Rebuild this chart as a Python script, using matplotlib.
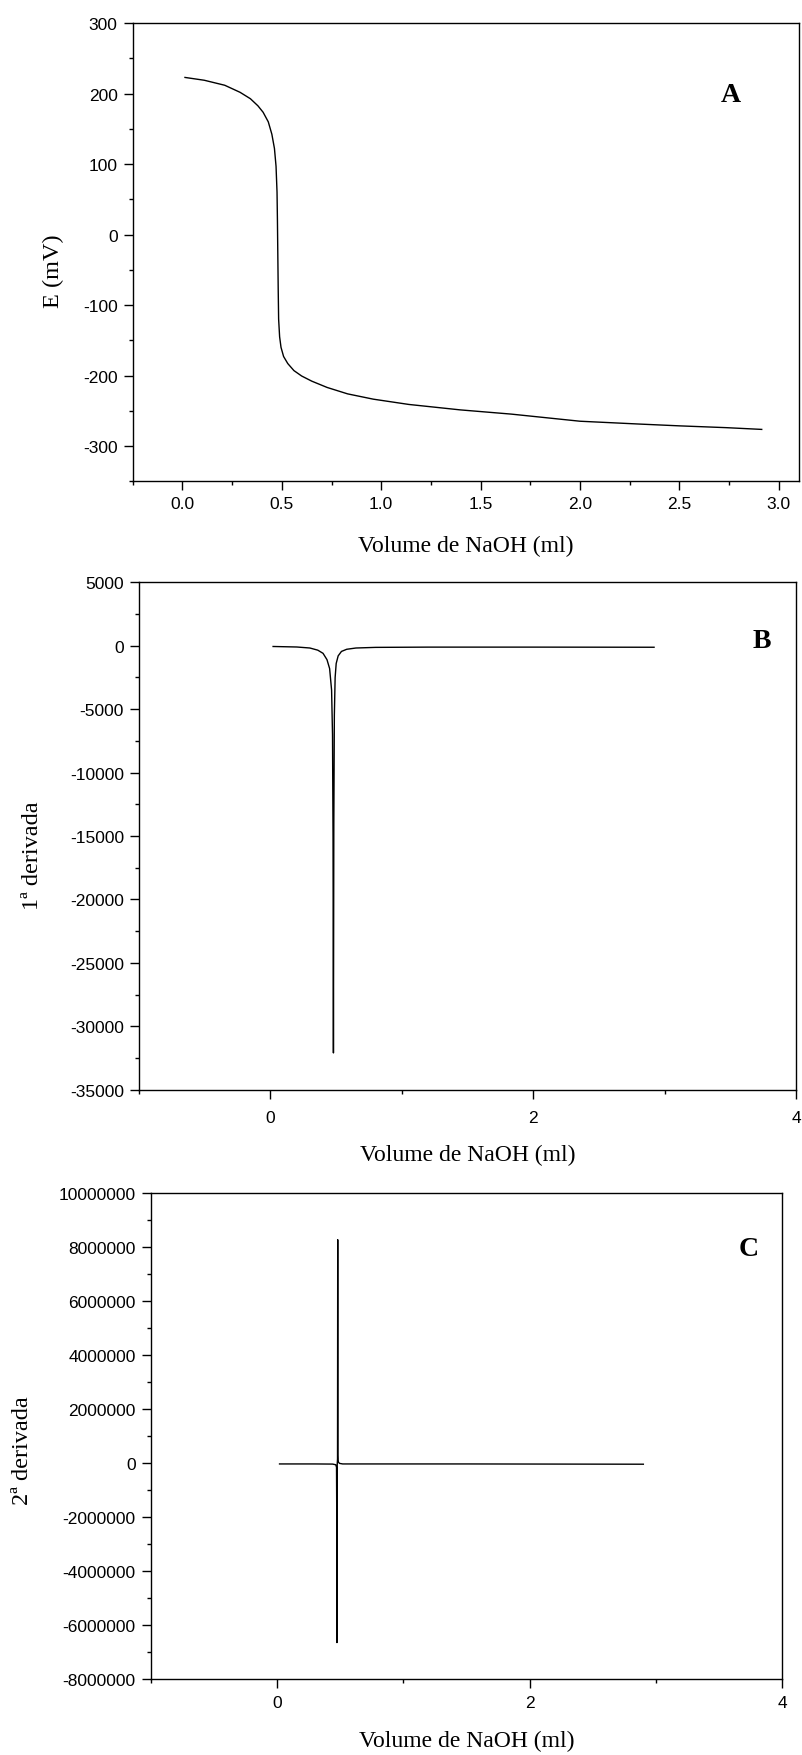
import matplotlib
matplotlib.use("Agg")
import matplotlib.pyplot as plt
from matplotlib.ticker import MultipleLocator, FixedLocator

# ---------------- data ----------------
vol_A = [0.013, 0.11, 0.213, 0.29, 0.342, 0.38, 0.406, 0.432, 0.45, 0.463,
         0.471, 0.476, 0.478, 0.480, 0.482, 0.484, 0.489, 0.496, 0.509, 0.53,
         0.561, 0.60, 0.651, 0.728, 0.831, 0.96, 1.139, 1.397, 1.654, 2.0,
         2.297, 2.503, 2.734, 2.914]
E_A = [222.8, 218.8, 211.7, 201.7, 192.6, 182.5, 173.4, 159.8, 142.2, 122.0,
       96.8, 60.0, 20.0, -30.0, -80.0, -120.0, -145.0, -160.0, -173.0, -183.0,
       -193.0, -200.7, -208.0, -216.9, -226.0, -233.5, -241.0, -248.7, -254.7, -264.8,
       -268.8, -271.4, -273.9, -276.4]

vol_B = [0.02, 0.2, 0.3, 0.36, 0.40, 0.43, 0.45, 0.465, 0.472, 0.476,
         0.479, 0.482, 0.486, 0.492, 0.50, 0.515, 0.54, 0.58, 0.65, 0.8,
         1.2, 2.0, 2.918]
d1_B = [-60, -100, -180, -350, -600, -1100, -1800, -3500, -7000, -15000,
        -32100, -14000, -5500, -2500, -1400, -800, -450, -280, -180, -130,
        -110, -110, -120]

vol_C = [0.02, 0.3, 0.44, 0.465, 0.471, 0.4735, 0.4745, 0.4755, 0.477, 0.479,
         0.4805, 0.4815, 0.4825, 0.484, 0.487, 0.495, 0.52, 0.7, 1.5, 2.2, 2.9]
d2_C = [-30000, -30000, -35000, -60000, -150000, -2500000, -6650000, -300000, 0, 150000,
        8280000, 300000, 120000, 80000, 30000, -10000, -30000, -30000, -30000, -35000, -40000]

xticks_A = [0.0, 0.5, 1.0, 1.5, 2.0, 2.5, 3.0]
xticklabels_A = ["0.0", "0.5", "1.0", "1.5", "2.0", "2.5", "3.0"]
yticks_A = [-300, -200, -100, 0, 100, 200, 300]
yticklabels_A = ["-300", "-200", "-100", "0", "100", "200", "300"]

xticks_BC = [0, 2, 4]
xticklabels_BC = ["0", "2", "4"]
yticks_B = [-35000, -30000, -25000, -20000, -15000, -10000, -5000, 0, 5000]
yticklabels_B = ["-35000", "-30000", "-25000", "-20000", "-15000", "-10000", "-5000", "0", "5000"]
yticks_C = [-8000000, -6000000, -4000000, -2000000, 0, 2000000, 4000000, 6000000, 8000000, 10000000]
yticklabels_C = ["-8000000", "-6000000", "-4000000", "-2000000", "0", "2000000",
                 "4000000", "6000000", "8000000", "10000000"]

xlabel = "Volume de NaOH (ml)"
ylabels = ["E (mV)", "1ª derivada", "2ª derivada"]
letters = ["A", "B", "C"]

# ---------------- figure ----------------
plt.rcParams["axes.unicode_minus"] = False
W, H = 802, 1756
fig = plt.figure(figsize=(W / 100, H / 100), dpi=100)

SANS = "Liberation Sans"
SERIF = "Liberation Serif"


def px_axes(l, r, t, b):
    return fig.add_axes([l / W, 1 - b / H, (r - l) / W, (b - t) / H])


def ftext(x, y, s, **kw):
    fig.text(x / W, 1 - y / H, s, ha="center", va="center", **kw)


def style(ax, xpad):
    for sp in ax.spines.values():
        sp.set_linewidth(1.0)
        sp.set_color("black")
    ax.tick_params(which="both", direction="out", top=False, right=False,
                   width=1.0, color="black")
    ax.tick_params(which="major", length=6.3)
    ax.tick_params(which="minor", length=3.2)
    ax.tick_params(axis="y", which="major", pad=4.5)
    ax.tick_params(axis="x", which="major", pad=xpad)
    for lab in ax.get_xticklabels() + ax.get_yticklabels():
        lab.set_fontfamily(SANS)
        lab.set_fontsize(12.5)


# Panel A
axA = px_axes(132.7, 798.7, 24, 482.3)
axA.plot(vol_A, E_A, color="black", lw=1.0)
axA.set_xlim(-0.25, 3.1)
axA.set_ylim(-350, 300)
axA.xaxis.set_major_locator(FixedLocator(xticks_A))
axA.set_xticklabels(xticklabels_A)
axA.yaxis.set_major_locator(FixedLocator(yticks_A))
axA.set_yticklabels(yticklabels_A)
axA.xaxis.set_minor_locator(MultipleLocator(0.25))
axA.yaxis.set_minor_locator(MultipleLocator(50))
style(axA, 4.5)

# Panel B
axB = px_axes(139, 796.3, 583.3, 1090.7)
axB.plot(vol_B, d1_B, color="black", lw=1.0)
axB.set_xlim(-1, 4)
axB.set_ylim(-35000, 5000)
axB.xaxis.set_major_locator(FixedLocator(xticks_BC))
axB.set_xticklabels(xticklabels_BC)
axB.yaxis.set_major_locator(FixedLocator(yticks_B))
axB.set_yticklabels(yticklabels_B)
axB.xaxis.set_minor_locator(MultipleLocator(1))
axB.yaxis.set_minor_locator(MultipleLocator(2500))
style(axB, 8.0)

# Panel C
axC = px_axes(150.7, 782.3, 1194.3, 1680)
axC.plot(vol_C, d2_C, color="black", lw=1.0)
axC.set_xlim(-1, 4)
axC.set_ylim(-8000000, 10000000)
axC.xaxis.set_major_locator(FixedLocator(xticks_BC))
axC.set_xticklabels(xticklabels_BC)
axC.yaxis.set_major_locator(FixedLocator(yticks_C))
axC.set_yticklabels(yticklabels_C)
axC.xaxis.set_minor_locator(MultipleLocator(1))
axC.yaxis.set_minor_locator(MultipleLocator(1000000))
style(axC, 5.5)

# axis labels
ftext(465.7, 546, xlabel, fontfamily=SERIF, fontsize=17)
ftext(467.5, 1155, xlabel, fontfamily=SERIF, fontsize=17)
ftext(466.5, 1741, xlabel, fontfamily=SERIF, fontsize=17)

ftext(53.7, 271, ylabels[0], fontfamily=SERIF, fontsize=17.5, rotation=90)
ftext(33, 856, ylabels[1], fontfamily=SERIF, fontsize=17.5, rotation=90)
ftext(23, 1451, ylabels[2], fontfamily=SERIF, fontsize=17.5, rotation=90)

# panel letters
ftext(731, 96, letters[0], fontfamily=SERIF, fontsize=20, fontweight="bold")
ftext(762, 642, letters[1], fontfamily=SERIF, fontsize=20, fontweight="bold")
ftext(749, 1250, letters[2], fontfamily=SERIF, fontsize=20, fontweight="bold")

fig.savefig("out.png", dpi=100)
